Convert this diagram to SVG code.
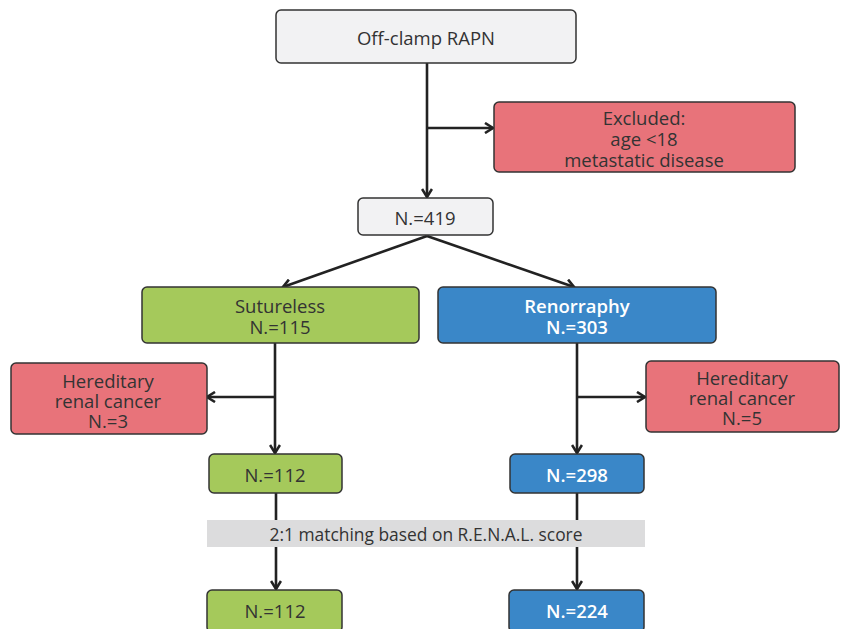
<svg xmlns="http://www.w3.org/2000/svg" width="841" height="629" viewBox="0 0 841 629">
<defs>
<marker id="ah" viewBox="0 0 12 12" refX="10" refY="6" markerWidth="12" markerHeight="12" markerUnits="userSpaceOnUse" orient="auto">
<path d="M2,1 L10,6 L2,11" fill="none" stroke="#222" stroke-width="2.6" stroke-linejoin="miter"/>
</marker>
<style>
text{font-family:"Open Sans","Noto Sans","DejaVu Sans",sans-serif;font-size:18.5px;fill:#333;text-anchor:middle;dominant-baseline:central}
.box{stroke:#333;stroke-width:1.5}
.gray{fill:#f2f2f3}
.pink{fill:#e8737a}
.green{fill:#a5c95b}
.blue{fill:#3a87c8}
.w{fill:#fff;font-weight:600}
.ln{fill:none;stroke:#222;stroke-width:2.6}
</style>
</defs>
<rect x="207" y="520" width="438" height="27" fill="#dcdcdd"/>
<g id="connectors">
<path class="ln" d="M427,63 V197" marker-end="url(#ah)"/>
<path class="ln" d="M427,128 H493" marker-end="url(#ah)"/>
<path class="ln" d="M427,236 L283,287" marker-end="url(#ah)"/>
<path class="ln" d="M427,236 L574,287" marker-end="url(#ah)"/>
<path class="ln" d="M275,343 V453" marker-end="url(#ah)"/>
<path class="ln" d="M275,397 H207" marker-end="url(#ah)"/>
<path class="ln" d="M577,343 V453" marker-end="url(#ah)"/>
<path class="ln" d="M577,397 H645" marker-end="url(#ah)"/>
<path class="ln" d="M276,493 V520 M276,547 V589" marker-end="url(#ah)"/>
<path class="ln" d="M577,493 V520 M577,547 V589" marker-end="url(#ah)"/>
</g>
<text x="426" y="534" style="font-size:17.4px">2:1 matching based on R.E.N.A.L. score</text>
<g id="start">
<rect class="box gray" x="276" y="10" width="300" height="53" rx="5"/>
<text x="426" y="37">Off-clamp RAPN</text>
</g>
<g id="excluded">
<rect class="box pink" x="494" y="102" width="301" height="70" rx="5"/>
<text x="644" y="117">Excluded:</text>
<text x="644" y="138">age &lt;18</text>
<text x="644" y="159">metastatic disease</text>
</g>
<g id="n419">
<rect class="box gray" x="358" y="198" width="135" height="37" rx="5"/>
<text x="425" y="217">N.=419</text>
</g>
<g id="sutureless">
<rect class="box green" x="142" y="287" width="277" height="56" rx="5"/>
<text x="280" y="305">Sutureless</text>
<text x="280" y="326">N.=115</text>
</g>
<g id="renorraphy">
<rect class="box blue" x="438" y="287" width="278" height="56" rx="5"/>
<text class="w" x="577" y="305">Renorraphy</text>
<text class="w" x="577" y="326">N.=303</text>
</g>
<g id="hered-left">
<rect class="box pink" x="11" y="363" width="196" height="71" rx="5"/>
<text x="108" y="380">Hereditary</text>
<text x="108" y="400">renal cancer</text>
<text x="108" y="420">N.=3</text>
</g>
<g id="hered-right">
<rect class="box pink" x="646" y="361" width="193" height="71" rx="5"/>
<text x="742" y="377">Hereditary</text>
<text x="742" y="397">renal cancer</text>
<text x="742" y="417">N.=5</text>
</g>
<g id="n112a">
<rect class="box green" x="209" y="454" width="133" height="39" rx="5"/>
<text x="275" y="474">N.=112</text>
</g>
<g id="n298">
<rect class="box blue" x="510" y="454" width="134" height="39" rx="5"/>
<text class="w" x="577" y="474">N.=298</text>
</g>
<g id="n112b">
<rect class="box green" x="207" y="590" width="135" height="42" rx="5"/>
<text x="275" y="610">N.=112</text>
</g>
<g id="n224">
<rect class="box blue" x="509" y="590" width="135" height="42" rx="5"/>
<text class="w" x="577" y="610">N.=224</text>
</g>
</svg>
